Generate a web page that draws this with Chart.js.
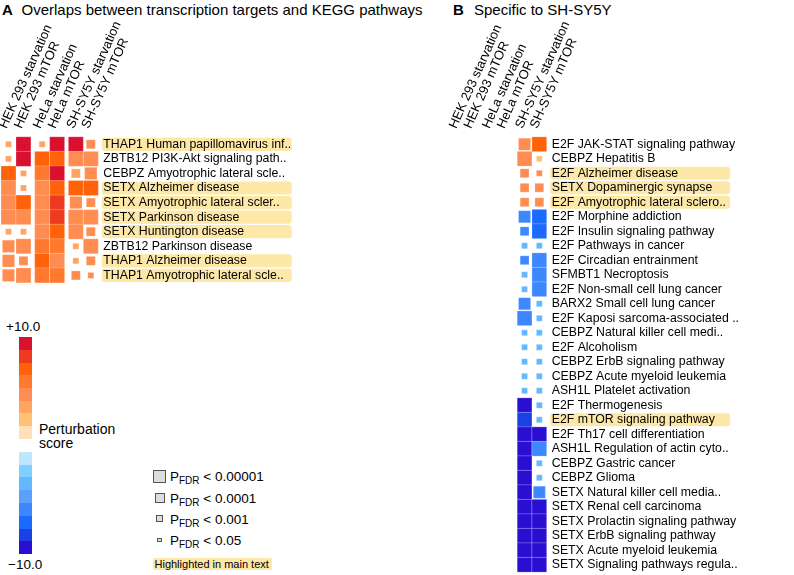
<!DOCTYPE html>
<html>
<head>
<meta charset="utf-8">
<script src="https://cdn.jsdelivr.net/npm/chart.js@4.4.0/dist/chart.umd.min.js"></script>
<style>
body { margin: 0; width: 794px; height: 575px; position: relative; background: #fff; overflow: hidden;
       font-family: "Liberation Sans", Arial, sans-serif; color: #000; }
.t { position: absolute; white-space: nowrap; line-height: 1; }
canvas { position: absolute; top: 0; }
.seg { position: absolute; left: 19px; width: 13px; }
.sq { position: absolute; box-sizing: border-box; border: 1px solid #555; background: #ddd; }
.hl { background: #fde8a8; border-radius: 2px; }
sub { font-size: 10px; vertical-align: -3px; line-height: 0; }
</style>
</head>
<body>

<div class="t" style="left:2px;top:2px;font-size:15px;font-weight:bold">A</div>
<div class="t" style="left:21.5px;top:2px;font-size:15px">Overlaps between transcription targets and KEGG pathways</div>
<div class="t" style="left:453px;top:2px;font-size:15px;font-weight:bold">B</div>
<div class="t" style="left:474px;top:2px;font-size:15px">Specific to SH-SY5Y</div>

<canvas id="chartA" width="400" height="300" style="left:0"></canvas>
<canvas id="chartB" width="394" height="575" style="left:400px"></canvas>

<div id="colorbar"></div>
<div class="t" style="left:6px;top:320px;font-size:13.5px">+10.0</div>
<div class="t" style="left:8px;top:558px;font-size:13.5px">−10.0</div>
<div class="t" style="left:39px;top:422px;font-size:14px;line-height:14px">Perturbation<br>score</div>

<div id="plegend"></div>
<div class="t hl" style="left:152.5px;top:558px;width:119px;height:11.5px;font-size:11px;padding-top:0.5px;padding-left:2px;box-sizing:border-box">Highlighted in main text</div>

<script>
// ---- shared ----
const columnLabels = ['HEK 293 starvation', 'HEK 293 mTOR', 'HeLa starvation', 'HeLa mTOR', 'SH-SY5Y starvation', 'SH-SY5Y mTOR'];

// perturbation score colours, weakest -> strongest
const posColors = ['#ffe0b8', '#ffc274', '#ffa462', '#ff8c50', '#ff7a2e', '#ff6208', '#ee3b1f', '#d9112f'];
const negColors = ['#bfe6ff', '#7fd0ff', '#64b8ff', '#5aa0ff', '#3d88ff', '#1a6aff', '#1a40e6', '#2a0fd2'];

// P_FDR levels: 1 <0.00001, 2 <0.0001, 3 <0.001, 4 <0.05
const pLabels = ['0.00001', '0.0001', '0.001', '0.05'];

// ---- panel A ----
const rowsA = ['THAP1 Human papillomavirus inf..', 'ZBTB12 PI3K-Akt signaling path..', 'CEBPZ Amyotrophic lateral scle..',
  'SETX Alzheimer disease', 'SETX Amyotrophic lateral scler..', 'SETX Parkinson disease', 'SETX Huntington disease',
  'ZBTB12 Parkinson disease', 'THAP1 Alzheimer disease', 'THAP1 Amyotrophic lateral scle..'];
const highlightA = [1, 0, 0, 1, 1, 1, 1, 0, 1, 1];

const hekStarvA = [3.5, 3.5, 7.0, 4.5, 4.5, 4.5, 3.0, 4.5, 4.5, 4.5];
const hekMtorA  = [9.5, 9.5, 3.5, 3.5, 7.0, 4.5, 3.0, 4.5, 4.5, 4.5];
const helaStarvA = [3.5, 7.0, 6.0, 4.5, 4.5, 4.5, 4.5, 6.0, 7.0, 6.0];
const helaMtorA = [9.5, 7.0, 9.5, 7.0, 8.0, 8.0, 7.0, 6.0, 4.5, 6.0];
const shsyStarvA = [9.5, 4.5, 3.5, 7.0, 4.5, 4.5, 4.5, 3.5, 3.5, 4.5];
const shsyMtorA = [4.5, 4.5, 4.5, 6.5, 4.5, 4.5, 4.5, 4.5, 4.5, 4.5];

const hekStarvSigA = [4, 4, 1, 1, 1, 1, 4, 2, 2, 2];
const hekMtorSigA  = [1, 1, 4, 4, 1, 1, 4, 1, 3, 1];
const helaStarvSigA = [4, 1, 1, 1, 1, 1, 1, 1, 1, 1];
const helaMtorSigA = [1, 1, 1, 1, 1, 1, 1, 1, 1, 1];
const shsyStarvSigA = [1, 1, 3, 1, 2, 1, 1, 4, 4, 3];
const shsyMtorSigA = [3, 1, 2, 1, 3, 1, 3, 1, 3, 4];

// ---- panel B ----
const rowsB = ['E2F JAK-STAT signaling pathway', 'CEBPZ Hepatitis B', 'E2F Alzheimer disease', 'SETX Dopaminergic synapse',
  'E2F Amyotrophic lateral sclero..', 'E2F Morphine addiction', 'E2F Insulin signaling pathway', 'E2F Pathways in cancer',
  'E2F Circadian entrainment', 'SFMBT1 Necroptosis', 'E2F Non-small cell lung cancer', 'BARX2 Small cell lung cancer',
  'E2F Kaposi sarcoma-associated ..', 'CEBPZ Natural killer cell medi..', 'E2F Alcoholism', 'CEBPZ ErbB signaling pathway',
  'CEBPZ Acute myeloid leukemia', 'ASH1L Platelet activation', 'E2F Thermogenesis', 'E2F mTOR signaling pathway',
  'E2F Th17 cell differentiation', 'ASH1L Regulation of actin cyto..', 'CEBPZ Gastric cancer', 'CEBPZ Glioma',
  'SETX Natural killer cell media..', 'SETX Renal cell carcinoma', 'SETX Prolactin signaling pathway',
  'SETX ErbB signaling pathway', 'SETX Acute myeloid leukemia', 'SETX Signaling pathways regula..'];
const highlightB = [0, 0, 1, 1, 1, 0, 0, 0, 0, 0, 0, 0, 0, 0, 0, 0, 0, 0, 0, 1, 0, 0, 0, 0, 0, 0, 0, 0, 0, 0];

const shsyStarvB = [4.5, 4.5, 4.5, 4.5, 4.5, -5.5, -5.5, -3.0, -5.5, -3.0, -3.0, -5.5, -5.5, -3.0, -3.0,
  -3.0, -3.0, -3.0, -9.5, -8.5, -9.5, -9.5, -9.5, -9.5, -9.5, -9.5, -9.5, -9.5, -9.5, -9.5];
const shsyMtorB = [7.0, 2.0, 4.5, 4.5, 4.5, -7.0, -7.0, -3.0, -5.5, -5.5, -5.5, -3.0, -3.0, -3.0, -3.0,
  -3.0, -3.0, -3.0, -3.0, -3.0, -9.5, -5.5, -3.0, -3.0, -5.5, -9.5, -9.5, -9.5, -9.5, -9.5];
const shsyStarvSigB = [2, 1, 3, 3, 3, 2, 3, 4, 3, 4, 4, 2, 1, 4, 4, 4, 4, 4, 1, 1, 1, 1, 1, 1, 1, 1, 1, 1, 1, 1];
const shsyMtorSigB  = [1, 4, 4, 3, 3, 1, 1, 4, 1, 1, 1, 4, 4, 4, 4, 4, 4, 4, 4, 4, 1, 1, 4, 4, 2, 1, 1, 1, 1, 1];

// ---- helpers ----
const FONT = '"Liberation Sans", Arial, sans-serif';
const GAP = 0.25;
const colPos = columnLabels.map((_, i) => i + GAP * Math.floor(i / 2));
const sizeByLevel = {1: 1.0, 2: 0.82, 3: 0.6, 4: 0.4};

function scoreColor(s) {
  const k = Math.min(7, Math.floor(Math.abs(s) / 1.25));
  return s >= 0 ? posColors[k] : negColors[k];
}

function cells(scoreCols, sigCols) {
  const pts = [];
  scoreCols.forEach((col, c) => {
    if (!col) return;
    col.forEach((s, r) => {
      const p = sigCols[c][r];
      if (p) pts.push({x: colPos[c], y: r, s: s, p: p});
    });
  });
  return pts;
}

function cellRadius(c) {
  if (!c.raw) return 0;
  const sx = c.chart.scales.x, sy = c.chart.scales.y;
  const ux = Math.abs(sx.getPixelForValue(1) - sx.getPixelForValue(0));
  const uy = Math.abs(sy.getPixelForValue(1) - sy.getPixelForValue(0));
  return Math.max(ux, uy) * sizeByLevel[c.raw.p] / Math.SQRT2;
}

const rowHighlight = {
  id: 'rowHighlight',
  beforeDraw(chart, args, opts) {
    const {ctx, chartArea} = chart;
    const y = chart.scales.y;
    ctx.save();
    ctx.fillStyle = opts.color;
    opts.rows.forEach((on, i) => {
      if (!on) return;
      const cy = y.getPixelForValue(i);
      ctx.beginPath();
      ctx.roundRect(chartArea.right + opts.offset, cy - opts.height / 2, opts.width, opts.height, 3);
      ctx.fill();
    });
    ctx.restore();
  }
};

function makeChart(id, rows, highlight, data, frame) {
  return new Chart(document.getElementById(id), {
    type: 'scatter',
    data: {
      datasets: [{
        data: data,
        pointStyle: 'rect',
        clip: false,
        backgroundColor: c => c.raw ? scoreColor(c.raw.s) : '#fff',
        borderColor: 'rgba(255,255,255,0.45)',
        borderWidth: 0.5,
        pointRadius: cellRadius,
        pointHoverRadius: cellRadius
      }]
    },
    options: {
      responsive: false,
      devicePixelRatio: 1,
      animation: false,
      events: [],
      layout: {autoPadding: false, padding: {left: frame.left, top: 0, right: 0, bottom: frame.bottom}},
      plugins: {
        legend: {display: false},
        tooltip: {enabled: false},
        rowHighlight: {rows: highlight, color: '#fde8a8', offset: 3.4, width: frame.boxWidth, height: 13.2}
      },
      scales: {
        x: {
          type: 'linear', position: 'top', min: -0.5, max: colPos[5] + 0.5, bounds: 'data',
          grid: {display: false, drawTicks: false}, border: {display: false},
          afterBuildTicks: s => { s.ticks = colPos.map(v => ({value: v})); },
          afterFit: s => { s.height = frame.top; s.paddingLeft = 0; s.paddingRight = 0; },
          ticks: {autoSkip: false, minRotation: 66, maxRotation: 66, padding: 6, labelOffset: 9, color: '#000',
                  font: {family: FONT, size: 13}, callback: (v, i) => columnLabels[i]}
        },
        y: {
          type: 'linear', position: 'right', min: -0.5, max: rows.length - 0.5, reverse: true, bounds: 'data',
          grid: {display: false, drawTicks: false}, border: {display: false},
          afterBuildTicks: s => { s.ticks = rows.map((_, i) => ({value: i})); },
          afterFit: s => { s.width = frame.axisWidth; s.paddingTop = 0; s.paddingBottom = 0; },
          ticks: {autoSkip: false, padding: 5, color: '#000', font: {family: FONT, size: 12.3},
                  callback: (v, i) => rows[i]}
        }
      }
    },
    plugins: [rowHighlight]
  });
}

makeChart('chartA', rowsA, highlightA,
  cells([hekStarvA, hekMtorA, helaStarvA, helaMtorA, shsyStarvA, shsyMtorA],
        [hekStarvSigA, hekMtorSigA, helaStarvSigA, helaMtorSigA, shsyStarvSigA, shsyMtorSigA]),
  {left: 1, top: 137, bottom: 17.3, axisWidth: 301.7, boxWidth: 190});

makeChart('chartB', rowsB, highlightB,
  cells([null, null, null, null, shsyStarvB, shsyMtorB],
        [null, null, null, null, shsyStarvSigB, shsyMtorSigB]),
  {left: 50.8, top: 137, bottom: 3, axisWidth: 247.3, boxWidth: 180});

// ---- colour bar legend ----
const bar = document.getElementById('colorbar');
posColors.slice().reverse().forEach((col, i) => {
  const d = document.createElement('div');
  d.className = 'seg';
  d.style.top = (337.3 + i * 12.67) + 'px';
  d.style.height = '12.8px';
  d.style.background = col;
  bar.appendChild(d);
});
negColors.forEach((col, i) => {
  const d = document.createElement('div');
  d.className = 'seg';
  d.style.top = (451.7 + i * 12.8) + 'px';
  d.style.height = '12.9px';
  d.style.background = col;
  bar.appendChild(d);
});

// ---- P_FDR size legend ----
const pl = document.getElementById('plegend');
const pSizes = [13.3, 10, 7.3, 4.7];
pLabels.forEach((lab, i) => {
  const cy = 476.3 + i * 21.2;
  const sq = document.createElement('div');
  sq.className = 'sq';
  sq.style.left = (159.5 - pSizes[i] / 2) + 'px';
  sq.style.top = (cy - pSizes[i] / 2) + 'px';
  sq.style.width = pSizes[i] + 'px';
  sq.style.height = pSizes[i] + 'px';
  pl.appendChild(sq);
  const t = document.createElement('div');
  t.className = 't';
  t.style.left = '170px';
  t.style.top = (cy - 6) + 'px';
  t.style.fontSize = '13.5px';
  t.innerHTML = 'P<sub>FDR</sub> &lt; ' + lab;
  pl.appendChild(t);
});
</script>
</body>
</html>
